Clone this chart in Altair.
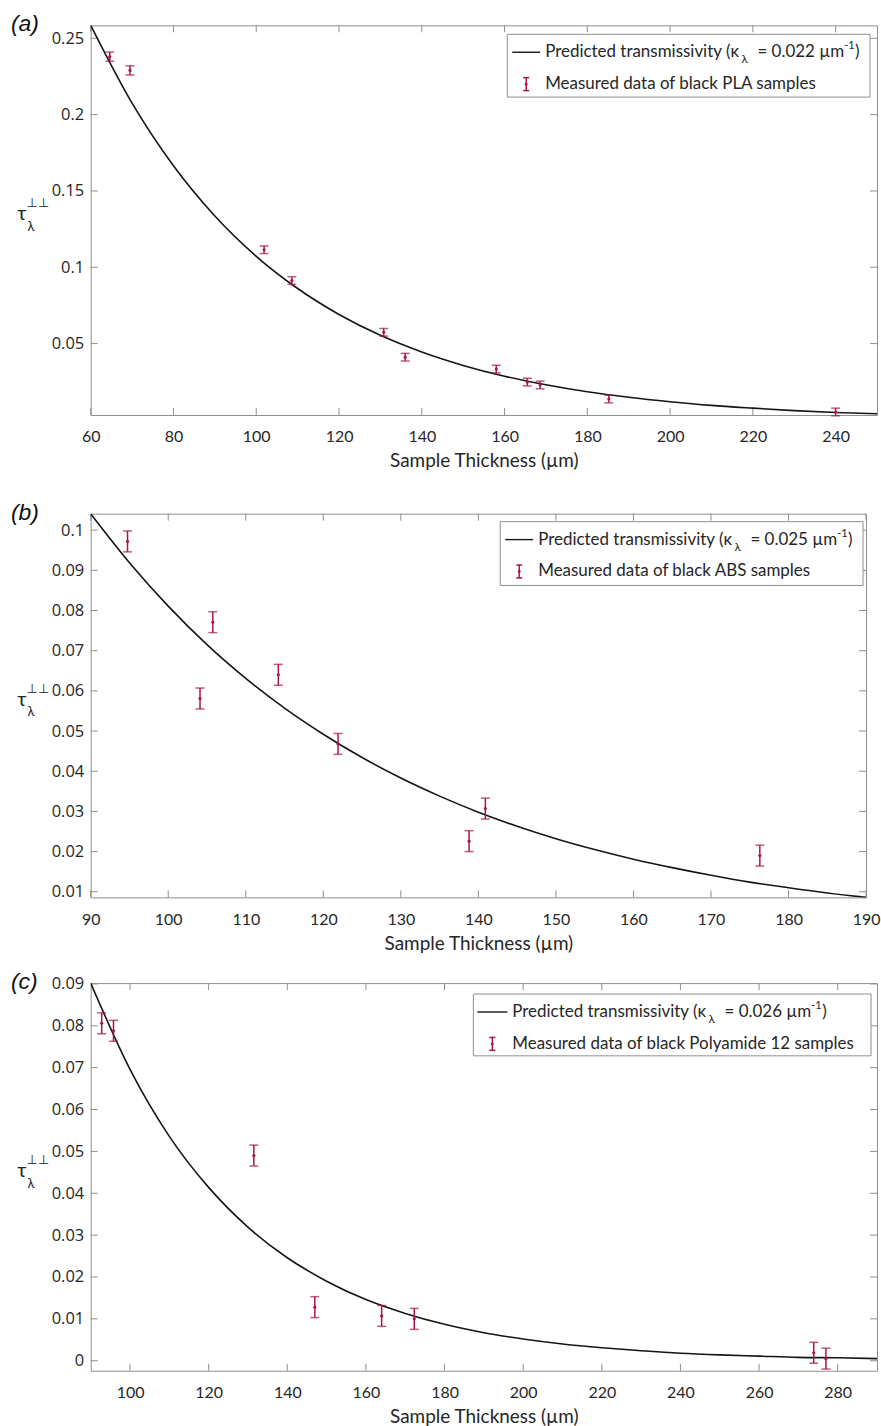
import altair as alt
import pandas as pd

# ---------------- data ----------------
# (a) black PLA
a_x = [64.6, 69.5, 101.9, 108.6, 130.8, 136.0, 158.0, 165.5, 168.6, 185.2, 240.0]
a_y = [0.238, 0.229, 0.1115, 0.0913, 0.0574, 0.0411, 0.0333, 0.0248, 0.0229, 0.0137, 0.0052]
a_err = [0.003, 0.003, 0.0025, 0.0025, 0.0025, 0.0025, 0.0025, 0.0025, 0.0025, 0.0025, 0.0025]
a_cx = [60, 70, 80, 90, 100, 110, 120, 130, 140, 150, 160, 170, 180, 190, 200, 210, 220, 230, 240, 250]
a_cy = [0.2585, 0.2075, 0.1665, 0.1336, 0.1072, 0.0861, 0.0691, 0.0554, 0.0445, 0.0357,
        0.0286, 0.0230, 0.0184, 0.0148, 0.0119, 0.0095, 0.0077, 0.0061, 0.0049, 0.0040]
a_xticks = [60, 80, 100, 120, 140, 160, 180, 200, 220, 240]
a_yticks = [0.05, 0.1, 0.15, 0.2, 0.25]

# (b) black ABS
b_x = [94.75, 104.1, 105.75, 114.2, 121.9, 138.8, 140.9, 176.3]
b_y = [0.0972, 0.0581, 0.0771, 0.0640, 0.0468, 0.0226, 0.0307, 0.0190]
b_err = [0.0026, 0.0026, 0.0026, 0.0026, 0.0026, 0.0026, 0.0026, 0.0026]
b_cx = [90, 95, 100, 105, 110, 115, 120, 125, 130, 135, 140, 145, 150, 155, 160, 165, 170, 175, 180, 185, 190]
b_cy = [0.1041, 0.0919, 0.0811, 0.0715, 0.0631, 0.0557, 0.0492, 0.0434, 0.0383, 0.0338, 0.0298,
        0.0263, 0.0232, 0.0205, 0.0181, 0.0160, 0.0141, 0.0124, 0.0110, 0.0097, 0.0086]
b_xticks = [90, 100, 110, 120, 130, 140, 150, 160, 170, 180, 190]
b_yticks = [0.01, 0.02, 0.03, 0.04, 0.05, 0.06, 0.07, 0.08, 0.09, 0.1]

# (c) black Polyamide 12
c_x = [92.8, 95.8, 131.5, 147.0, 164.0, 172.3, 273.9, 277.0]
c_y = [0.0806, 0.0788, 0.0490, 0.0128, 0.0107, 0.0100, 0.0019, 0.0005]
c_err = [0.0025, 0.0025, 0.0025, 0.0025, 0.0025, 0.0025, 0.0025, 0.0025]
c_cx = [90, 100, 110, 120, 130, 140, 150, 160, 170, 180, 190, 200, 210, 220, 230, 240, 250, 260, 270, 280, 290]
c_cy = [0.0902, 0.0696, 0.0536, 0.0414, 0.0319, 0.0246, 0.0190, 0.0146, 0.0113, 0.0087, 0.0067,
        0.0052, 0.0040, 0.0031, 0.0024, 0.0018, 0.0014, 0.0011, 0.0008, 0.0007, 0.0005]
c_xticks = [100, 120, 140, 160, 180, 200, 220, 240, 260, 280]
c_yticks = [0, 0.01, 0.02, 0.03, 0.04, 0.05, 0.06, 0.07, 0.08, 0.09]

# ---------------- style ----------------
FONT = "Lato"
INK = "#262626"
RED = "#a8183e"
FRAME = "#8f8f8f"
one = pd.DataFrame({"k": [0]})


def txt(s, x, y, size, font=FONT, **kw):
    return alt.Chart(one).mark_text(text=s, font=font, fontSize=size, align="left",
                                    baseline="middle", color=INK, **kw).encode(
        x=alt.value(x), y=alt.value(y))


def panel(label, xs, ys, errs, cx, cy, xdom, ydom, xticks, yticks, w, h,
          kappa, material, box, line_x, text_x, top_extra=None):
    pts = pd.DataFrame({"x": xs, "y": ys,
                        "lo": [v - e for v, e in zip(ys, errs)],
                        "hi": [v + e for v, e in zip(ys, errs)]})
    crv = pd.DataFrame({"x": cx, "y": cy})
    xsc = alt.Scale(domain=xdom, nice=False, zero=False)
    ysc = alt.Scale(domain=ydom, nice=False, zero=False)

    xaxis = alt.Axis(values=xticks, title="Sample Thickness (µm)", labelFlush=False,
                     labelOverlap=False, labelPadding=14, titlePadding=7,
                     labelFont=FONT, labelFontSize=16)
    yaxis = alt.Axis(values=yticks, format="~g", title=None, labelPadding=7,
                     labelOverlap=False, labelFont="Open Sans", labelFontSize=16.5)

    def X(f):
        return alt.X(f, scale=xsc, axis=xaxis)

    def Y(f):
        return alt.Y(f, scale=ysc, axis=yaxis)

    line = alt.Chart(crv).mark_line(color="#151515", strokeWidth=1.6,
                                    interpolate="monotone", clip=True).encode(
        x=X("x:Q"), y=Y("y:Q"))

    bars = alt.Chart(pts).mark_rule(color=RED, strokeWidth=1.5).encode(
        x=X("x:Q"), y=Y("lo:Q"), y2="hi:Q")
    cap_lo = alt.Chart(pts).mark_tick(color=RED, orient="horizontal", size=9, thickness=1.5).encode(
        x=X("x:Q"), y=Y("lo:Q"))
    cap_hi = alt.Chart(pts).mark_tick(color=RED, orient="horizontal", size=9, thickness=1.5).encode(
        x=X("x:Q"), y=Y("hi:Q"))
    dots = alt.Chart(pts).mark_point(color=RED, filled=True, size=10, opacity=1).encode(
        x=X("x:Q"), y=Y("y:Q"))

    # inward ticks on all four sides
    xt = pd.DataFrame({"t": xticks})
    yt = pd.DataFrame({"t": yticks})
    tl = 7
    t_bot = alt.Chart(xt).mark_rule(color=FRAME).encode(
        x=X("t:Q"), y=alt.value(h), y2=alt.value(h - tl))
    t_top = alt.Chart(xt).mark_rule(color=FRAME).encode(
        x=X("t:Q"), y=alt.value(0), y2=alt.value(tl))
    t_lef = alt.Chart(yt).mark_rule(color=FRAME).encode(
        y=Y("t:Q"), x=alt.value(0), x2=alt.value(tl))
    t_rig = alt.Chart(yt).mark_rule(color=FRAME).encode(
        y=Y("t:Q"), x=alt.value(w - tl), x2=alt.value(w))

    # legend
    bx0, bx1, by0, by1 = box
    y1, y2 = by0 + 18, by0 + 50
    lg_box = alt.Chart(one).mark_rect(fill="white", stroke=FRAME, strokeWidth=1).encode(
        x=alt.value(bx0), x2=alt.value(bx1), y=alt.value(by0), y2=alt.value(by1))
    lg_line = alt.Chart(one).mark_rule(color="#151515", strokeWidth=1.4).encode(
        x=alt.value(line_x[0]), x2=alt.value(line_x[1]), y=alt.value(y1))
    mid = (line_x[0] + line_x[1]) / 2
    lg_bar = alt.Chart(one).mark_rule(color=RED, strokeWidth=1.5).encode(
        x=alt.value(mid), y=alt.value(y2 - 6.5), y2=alt.value(y2 + 6.5))
    lg_c1 = alt.Chart(one).mark_rule(color=RED, strokeWidth=1.5).encode(
        x=alt.value(mid - 3), x2=alt.value(mid + 3), y=alt.value(y2 - 6.5))
    lg_c2 = alt.Chart(one).mark_rule(color=RED, strokeWidth=1.5).encode(
        x=alt.value(mid - 3), x2=alt.value(mid + 3), y=alt.value(y2 + 6.5))
    lg_dot = alt.Chart(one).mark_point(color=RED, filled=True, size=8, opacity=1).encode(
        x=alt.value(mid), y=alt.value(y2))
    fs = 17
    lg_t = [
        txt("Predicted transmissivity (κ", text_x, y1, fs),
        txt("λ", text_x + 197, y1 + 7, 12),
        txt("= 0.%s µm" % kappa, text_x + 213, y1, fs),
        txt("-1", text_x + 300, y1 - 6, 11),
        txt(")", text_x + 311, y1, fs),
        txt("Measured data of black %s samples" % material, text_x, y2, fs),
    ]

    # y title  tau_lambda^(perp perp)
    ym = h / 2 - 6
    ytitle = [
        alt.Chart(one).mark_text(text="τ", font=FONT, fontSize=20, align="center",
                                 baseline="middle", color=INK).encode(
            x=alt.value(-69), y=alt.value(ym)),
        alt.Chart(one).mark_text(text="λ", font=FONT, fontSize=13, align="center",
                                 baseline="middle", color=INK).encode(
            x=alt.value(-60), y=alt.value(ym + 13)),
        alt.Chart(one).mark_text(text="⊥⊥", font="DejaVu Sans", fontSize=13, align="center",
                                 baseline="middle", color=INK).encode(
            x=alt.value(-53), y=alt.value(ym - 11)),
    ]
    plabel = alt.Chart(one).mark_text(text="(%s)" % label, font="Liberation Sans", fontSize=23,
                                      fontStyle="italic", align="left", baseline="middle",
                                      color="#111111").encode(
        x=alt.value(-80), y=alt.value(-1))

    layers = [t_bot, t_top, t_lef, t_rig, line, bars, cap_lo, cap_hi, dots,
              lg_box, lg_line, lg_bar, lg_c1, lg_c2, lg_dot] + lg_t + ytitle + [plabel]
    if top_extra is not None:
        layers.append(alt.Chart(one).mark_rule(strokeOpacity=0).encode(
            x=alt.value(0), x2=alt.value(1), y=alt.value(-top_extra)))
    return alt.layer(*layers).properties(width=w, height=h)


pa = panel("a", a_x, a_y, a_err, a_cx, a_cy, [60, 250], [0.0032, 0.2585],
           a_xticks, a_yticks, 789, 391, "022", "PLA",
           (418, 782, 9, 72), (423, 451), 456)
pb = panel("b", b_x, b_y, b_err, b_cx, b_cy, [90, 190], [0.0086, 0.1041],
           b_xticks, b_yticks, 778, 385, "025", "ABS",
           (411, 775, 8, 72), (416, 444), 449, top_extra=25)
pc = panel("c", c_x, c_y, c_err, c_cx, c_cy, [90, 290], [-0.0024, 0.0902],
           c_xticks, c_yticks, 789, 389, "026", "Polyamide 12",
           (384, 783, 11, 73), (388, 418), 423)

chart = alt.vconcat(pa, pb, pc, spacing=16).properties(
    padding={"left": 10, "top": 10, "right": 0, "bottom": 0}
).configure_view(stroke=FRAME, strokeWidth=1).configure_axis(
    domain=False, ticks=False, grid=False, labelFont=FONT, labelFontSize=15,
    labelColor=INK, titleFont=FONT, titleFontSize=19, titleColor=INK,
    titleFontWeight="normal"
)

chart.save("out.html", embed_options={"renderer": "svg", "actions": False})
